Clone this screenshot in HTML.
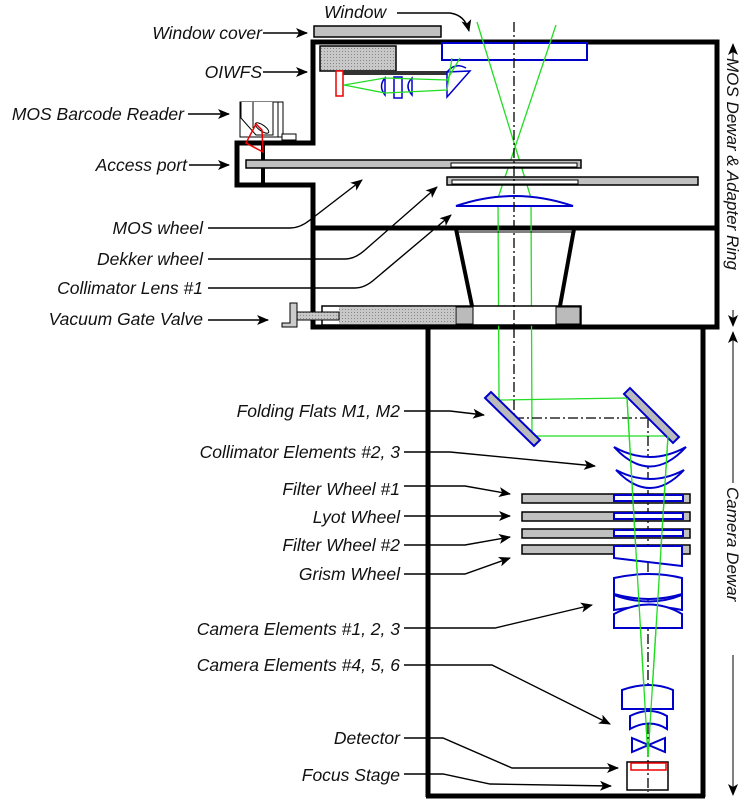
<!DOCTYPE html>
<html><head><meta charset="utf-8"><style>
html,body{margin:0;padding:0;background:#fff;}
svg{display:block;}
text{font-family:"Liberation Sans",sans-serif;font-style:italic;font-size:17.5px;fill:#111;}
</style></head><body>
<svg width="747" height="800" viewBox="0 0 747 800" xmlns="http://www.w3.org/2000/svg">
<defs>
<marker id="ar" viewBox="0 0 12 10" refX="11" refY="5" markerWidth="12" markerHeight="10" markerUnits="userSpaceOnUse" orient="auto">
<path d="M0,0 L12,5 L0,10 L3,5 z" fill="#000"/></marker>
<pattern id="ht" width="3" height="3" patternUnits="userSpaceOnUse"><rect width="3" height="3" fill="#c8c8c8"/><rect width="1" height="1" fill="#888"/></pattern>
</defs>

<g fill="none" stroke="#000" stroke-width="5">
<path d="M313,143 V42 H717 V327 H313 V185 H237 V143 Z"/>
<line x1="313" y1="228" x2="717" y2="228"/>
<line x1="428" y1="327" x2="428" y2="797"/>
<line x1="703" y1="327" x2="703" y2="797"/>
<line x1="426" y1="796" x2="705" y2="796"/>
</g>
<line x1="263" y1="145" x2="263" y2="184" stroke="#000" stroke-width="4"/>

<rect x="314" y="26" width="127" height="11" fill="#c0c0c0" stroke="#000" stroke-width="1.5"/>
<rect x="442" y="43" width="145" height="17" fill="#fff" stroke="#0000cc" stroke-width="2"/>
<rect x="320" y="46" width="76" height="25" fill="url(#ht)" stroke="#000" stroke-width="1.5"/>
<rect x="341" y="71" width="106" height="4" fill="#333"/>
<rect x="336" y="71" width="7" height="25" fill="#fff" stroke="#e00" stroke-width="1.5"/>
<g fill="none" stroke="#00c" stroke-width="1.5">
<path d="M385,78 Q378,86 385,95 Z"/>
<rect x="394" y="77" width="8" height="21"/>
<path d="M412,78 Q404,86 412,95 Z"/>
<path d="M447,72 L470,71 L447,97 Z"/>
<path d="M447,72 Q455,62 466,68"/>
</g>
<g fill="none" stroke="#2d2" stroke-width="1.3">
<path d="M344,85 L385,78 L447,80 L460,58"/>
<path d="M344,85 L385,93 L447,90 L452,58"/>
<line x1="477" y1="22" x2="531" y2="198"/>
<line x1="556" y1="25" x2="498" y2="198"/>
<path d="M498,198 L499,400 L627,398 L648,757"/>
<path d="M531,198 L532,436 L668,436 L648,757"/>
</g>
<g fill="#fff" stroke="#000" stroke-width="1">
<rect x="240" y="102" width="38" height="35"/>
<path d="M241,102 V118 L256,135 H273 V102"/>
<line x1="253" y1="102" x2="253" y2="128"/>
<rect x="278" y="102" width="5" height="35"/>
<rect x="282" y="134" width="14" height="6"/>
<ellipse cx="262" cy="128" rx="8" ry="3" transform="rotate(35 262 128)"/>
</g>
<path d="M256,124 L246,143 L263,152 L262,130 Z" fill="none" stroke="#e00" stroke-width="1.5"/>

<rect x="246" y="160" width="335" height="8" fill="#c0c0c0" stroke="#000" stroke-width="1.5"/>
<rect x="451" y="163" width="126" height="4" fill="#fff" stroke="#000" stroke-width="1"/>
<rect x="447" y="177" width="251" height="8" fill="#c0c0c0" stroke="#000" stroke-width="1.5"/>
<rect x="452" y="180" width="126" height="4" fill="#fff" stroke="#000" stroke-width="1"/>
<path d="M456,206 Q514,186 573,206 Z" fill="#fff" stroke="#00c" stroke-width="2"/>
<g stroke="#000" stroke-width="4"><line x1="456" y1="229" x2="472" y2="306"/><line x1="574" y1="229" x2="560" y2="306"/></g>
<line x1="456" y1="232" x2="574" y2="232" stroke="#000" stroke-width="1"/>
<rect x="322" y="306" width="259" height="19" fill="#fff" stroke="#000" stroke-width="1.5"/>
<rect x="339" y="307" width="116" height="17" fill="url(#ht)"/>
<rect x="456" y="307" width="17" height="17" fill="#bbb" stroke="#000" stroke-width="1"/>
<rect x="556" y="307" width="24" height="17" fill="#bbb" stroke="#000" stroke-width="1"/>
<rect x="297" y="312" width="42" height="8" fill="url(#ht)" stroke="#000" stroke-width="1"/>
<path d="M290,303 h7 v24 h-15 v-4 h8 z" fill="#ccc" stroke="#000" stroke-width="1"/>

<g fill="none" stroke="#000" stroke-width="1.3" stroke-dasharray="10,3,2,3">
<line x1="514" y1="22" x2="514" y2="418"/>
<line x1="514" y1="418" x2="648" y2="418"/>
<line x1="648" y1="418" x2="648" y2="792"/>
</g>
<g fill="#bbb" stroke="#00c" stroke-width="2">
<polygon points="485,398 491,392 540,440 534,446"/>
<polygon points="624,394 630,388 679,437 673,443"/>
</g>
<g fill="#fff" stroke="#00c" stroke-width="2">
<path d="M614,447 Q650,467 686,447 Q650,486 614,447 Z"/>
<path d="M616,470 Q650,488 684,470 Q650,506 616,470 Z"/>
</g>
<g stroke="#000" stroke-width="1.5" fill="#c0c0c0">
<rect x="522" y="494" width="168" height="9"/>
<rect x="522" y="512" width="168" height="9"/>
<rect x="522" y="529" width="168" height="9"/>
<rect x="522" y="545" width="168" height="9"/>
</g>
<g fill="#fff" stroke="#00c" stroke-width="2">
<rect x="614" y="495" width="69" height="6"/>
<rect x="614" y="513" width="69" height="6"/>
<rect x="614" y="530" width="69" height="6"/>
<path d="M614,546 H682 V566 L614,558 Z"/>
</g>
<g fill="#fff" stroke="#00c" stroke-width="2">
<path d="M614,578 Q650,570 682,578 V594 Q650,604 614,594 Z"/>
<path d="M614,595 Q650,608 682,595 V610 Q650,603 614,610 Z"/>
<path d="M614,628 V614 Q650,595 682,614 V628 Z"/>
<path d="M622,690 Q650,680 673,690 V709 H622 Z"/>
<path d="M630,716 Q650,706 667,716 V729 Q650,718 630,729 Z"/>
<path d="M632,738 L665,752 V738 L632,752 Z"/>
</g>
<rect x="627" y="762" width="41" height="28" fill="none" stroke="#000" stroke-width="1.5"/>
<rect x="631" y="763" width="35" height="7" fill="none" stroke="#e00" stroke-width="1.5"/>
<g fill="none" stroke="#2d2" stroke-width="1.3">
<line x1="627" y1="398" x2="648" y2="757"/><line x1="668" y1="436" x2="648" y2="757"/>
</g>

<g stroke="#000" stroke-width="1" fill="none">
<line x1="733" y1="44" x2="733" y2="60" marker-end="url(#ar)" transform="rotate(180 733 52)"/>
<line x1="733" y1="310" x2="733" y2="326" marker-end="url(#ar)"/>
<line x1="733" y1="332" x2="733" y2="348" marker-end="url(#ar)" transform="rotate(180 733 340)"/>
<line x1="733" y1="655" x2="733" y2="795" marker-end="url(#ar)"/>
<line x1="733" y1="340" x2="733" y2="483"/>
</g>
<text transform="translate(727,58) rotate(90)" style="font-size:17px">MOS Dewar &amp; Adapter Ring</text>
<rect x="724" y="485" width="20" height="168" fill="#fff"/>
<text transform="translate(727,487) rotate(90)" style="font-size:17px">Camera Dewar</text>

<g text-anchor="end">
<text x="262" y="39">Window cover</text>
<text x="262" y="78">OIWFS</text>
<text x="184" y="120">MOS Barcode Reader</text>
<text x="187" y="171">Access port</text>
<text x="203" y="234">MOS wheel</text>
<text x="203" y="265">Dekker wheel</text>
<text x="203" y="294">Collimator Lens #1</text>
<text x="203" y="325">Vacuum Gate Valve</text>
<text x="400" y="417">Folding Flats M1, M2</text>
<text x="400" y="458">Collimator Elements #2, 3</text>
<text x="400" y="495">Filter Wheel #1</text>
<text x="400" y="523">Lyot Wheel</text>
<text x="400" y="551">Filter Wheel #2</text>
<text x="400" y="580">Grism Wheel</text>
<text x="400" y="635">Camera Elements #1, 2, 3</text>
<text x="400" y="671">Camera Elements #4, 5, 6</text>
<text x="400" y="744">Detector</text>
<text x="400" y="781">Focus Stage</text>
</g>
<text x="324" y="18">Window</text>

<g fill="none" stroke="#000" stroke-width="1.4" marker-end="url(#ar)">
<path d="M263,33 H307"/>
<path d="M263,72 H307"/>
<path d="M188,114 H229"/>
<path d="M189,165 H229"/>
<path d="M208,320 H268"/>
<path d="M397,13 H450 Q465,15 469,31"/>
<path d="M208,228 H290 Q300,228 310,220 L362,180"/>
<path d="M208,259 H345 Q355,259 365,250 L437,187"/>
<path d="M208,288 H355 Q365,288 375,279 L451,215"/>
<path d="M404,411 H450 L484,415"/>
<path d="M404,452 H450 L595,466"/>
<path d="M404,486 H465 L510,494"/>
<path d="M404,516 H510"/>
<path d="M404,545 H465 L510,537"/>
<path d="M404,574 H465 L510,558"/>
<path d="M404,628 H495 L592,605"/>
<path d="M404,665 H492 L610,724"/>
<path d="M404,738 H443 L512,768 H618"/>
<path d="M404,774 H443 L490,784 L611,786"/>
</g>
</svg>
</body></html>
